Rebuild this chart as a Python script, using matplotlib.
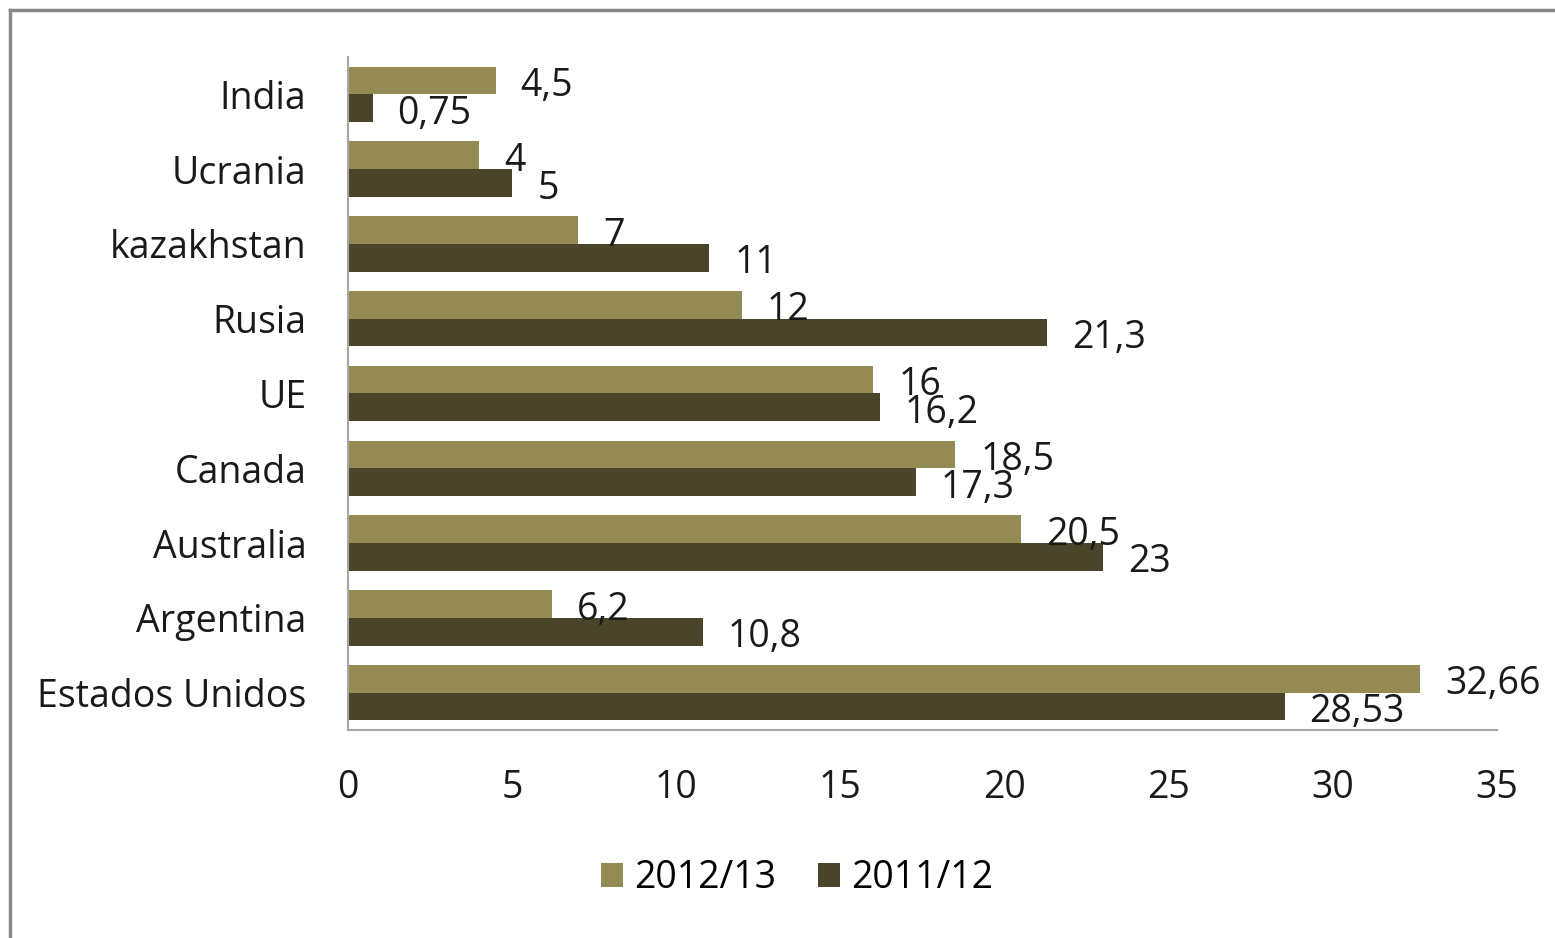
import matplotlib.pyplot as plt
from matplotlib.lines import Line2D
import numpy as np

## Data
countries = ["Estados Unidos", "Argentina", "Australia", "Canada", "UE",
             "Rusia", "kazakhstan", "Ucrania", "India"]
v_2012 = [32.66, 6.2, 20.5, 18.5, 16, 12, 7, 4, 4.5]
v_2011 = [28.53, 10.8, 23, 17.3, 16.2, 21.3, 11, 5, 0.75]
series = ["2012/13", "2011/12"]
colors = ["#948A54", "#4A442A"]
xticks = [0, 5, 10, 15, 20, 25, 30, 35]

plt.rcParams["font.family"] = ["Open Sans", "DejaVu Sans"]
fs = 27

fig = plt.figure(figsize=(15.55, 9.38), dpi=100)
ax = fig.add_axes([348 / 1555, 1 - 730 / 938, (1497 - 348) / 1555, (730 - 57) / 938])

y = np.arange(len(countries))
h = 0.37
b1 = ax.barh(y + h / 2, v_2012, height=h, color=colors[0], label=series[0])
b2 = ax.barh(y - h / 2, v_2011, height=h, color=colors[1], label=series[1])

def fmt(v):
    return f"{v:g}".replace(".", ",")

for bars, vals in ((b1, v_2012), (b2, v_2011)):
    for bar, v in zip(bars, vals):
        ax.annotate(fmt(v), (bar.get_width(), bar.get_y() + bar.get_height() / 2),
                    xytext=(18, -4), textcoords="offset points",
                    va="center", ha="left", fontsize=fs, color="#1a1a1a")

ax.set_xlim(0, 35)
ax.set_ylim(-0.5, len(countries) - 0.5)
ax.set_xticks(xticks)
ax.set_yticks(y)
ax.set_yticklabels(countries)
ax.tick_params(axis="both", length=0, labelsize=fs, colors="#1a1a1a")
ax.tick_params(axis="x", pad=28)
ax.tick_params(axis="y", pad=30)
for s in ("top", "right"):
    ax.spines[s].set_visible(False)
for s in ("left", "bottom"):
    ax.spines[s].set_color("#a6a6a6")
    ax.spines[s].set_linewidth(1.5)

ax.legend(loc="center", bbox_to_anchor=(797 / 1555, 1 - 878 / 938),
          bbox_transform=fig.transFigure, ncol=2, frameon=False,
          fontsize=fs, handlelength=0.6, handleheight=0.6,
          handletextpad=0.3, columnspacing=1.1)

# outer frame (top and left edges)
fig.add_artist(Line2D([10 / 1555, 10 / 1555], [0, 1 - 10 / 938],
                      transform=fig.transFigure, color="#888888", lw=2.5))
fig.add_artist(Line2D([10 / 1555, 1], [1 - 10 / 938, 1 - 10 / 938],
                      transform=fig.transFigure, color="#888888", lw=2.5))

fig.savefig("out.png", dpi=100)
